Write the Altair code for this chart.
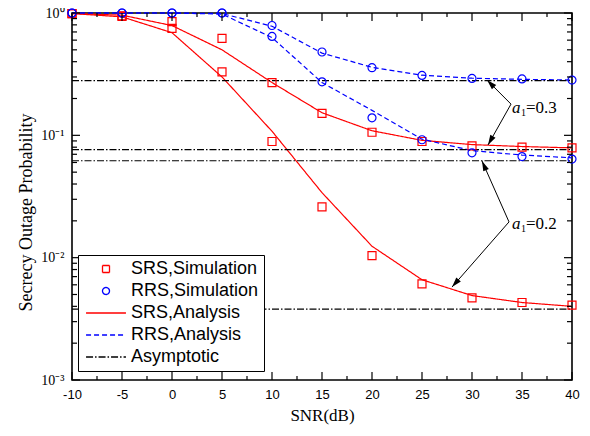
import math
import altair as alt
import pandas as pd

# ---------------- data ----------------
snr = [-10, -5, 0, 5, 10, 15, 20, 25, 30, 35, 40]

srs_sim_a03 = [0.99, 0.95, 0.85, 0.62, 0.27, 0.151, 0.106, 0.089, 0.082, 0.080, 0.079]
srs_ana_a03 = [0.99, 0.96, 0.79, 0.50, 0.27, 0.153, 0.109, 0.091, 0.084, 0.081, 0.079]
srs_sim_a02 = [0.99, 0.94, 0.75, 0.33, 0.089, 0.026, 0.0104, 0.0061, 0.0047, 0.0043, 0.0041]
srs_ana_a02 = [0.99, 0.93, 0.69, 0.30, 0.108, 0.034, 0.0124, 0.0066, 0.0049, 0.0043, 0.0040]

rrs_sim_a03 = [1.0, 1.0, 1.0, 1.0, 0.79, 0.48, 0.357, 0.309, 0.292, 0.289, 0.283]
rrs_ana_a03 = [1.0, 1.0, 1.0, 0.99, 0.78, 0.47, 0.36, 0.31, 0.293, 0.287, 0.283]
rrs_sim_a02 = [1.0, 1.0, 1.0, 1.0, 0.644, 0.274, 0.139, 0.092, 0.072, 0.067, 0.064]
rrs_ana_a02 = [1.0, 1.0, 1.0, 0.98, 0.63, 0.27, 0.16, 0.093, 0.075, 0.069, 0.0655]

asym_levels = [0.28, 0.0765, 0.062, 0.0038]
asym_snr = [-10, 40]

series_names = ["SRS,Simulation", "RRS,Simulation", "SRS,Analysis", "RRS,Analysis", "Asymptotic"]

x_major = [-10, -5, 0, 5, 10, 15, 20, 25, 30, 35, 40]
x_minor = [-7.5, -2.5, 2.5, 7.5, 12.5, 17.5, 22.5, 27.5, 32.5, 37.5]
y_major = [0.001, 0.01, 0.1, 1]
y_minor = [m * 10.0 ** e for e in (-3, -2, -1) for m in range(2, 10)]

ann_values = ["=0.3", "=0.2"]
ann_x = [34.0, 34.0]
ann_y = [0.152, 0.0172]

arrow_start_x = [33.9, 33.9, 33.7, 33.7]
arrow_start_y = [0.180, 0.180, 0.0196, 0.0196]
arrow_tip_x = [31.5, 31.6, 31.0, 28.0]
arrow_tip_y = [0.283, 0.0834, 0.0617, 0.00575]

# ---------------- tables ----------------
W, H = 500, 367

sim_rows, line_rows = [], []
for name, a1, vals in [("SRS,Simulation", "0.3", srs_sim_a03), ("SRS,Simulation", "0.2", srs_sim_a02),
                       ("RRS,Simulation", "0.3", rrs_sim_a03), ("RRS,Simulation", "0.2", rrs_sim_a02)]:
    for x, v in zip(snr, vals):
        sim_rows.append({"snr": x, "p": v, "series": name, "curve": name + a1})
for name, a1, vals in [("SRS,Analysis", "0.3", srs_ana_a03), ("SRS,Analysis", "0.2", srs_ana_a02),
                       ("RRS,Analysis", "0.3", rrs_ana_a03), ("RRS,Analysis", "0.2", rrs_ana_a02)]:
    for x, v in zip(snr, vals):
        line_rows.append({"snr": x, "p": v, "series": name, "curve": name + a1})
for i, lvl in enumerate(asym_levels):
    for x in asym_snr:
        line_rows.append({"snr": x, "p": lvl, "series": "Asymptotic", "curve": "asym%d" % i})

sim_df = pd.DataFrame(sim_rows)
line_df = pd.DataFrame(line_rows)


def px(x):
    return (x + 10) / 50 * W


def py(y):
    return -math.log10(y) / 3 * H


arrow_df = pd.DataFrame({
    "x": arrow_start_x, "y": arrow_start_y, "x2": arrow_tip_x, "y2": arrow_tip_y,
    "angle": [(math.degrees(math.atan2(px(tx) - px(sx), -(py(ty) - py(sy)))) + 360) % 360
              for sx, sy, tx, ty in zip(arrow_start_x, arrow_start_y, arrow_tip_x, arrow_tip_y)],
})
ann_df = pd.DataFrame({"x": ann_x, "y": ann_y, "v": ann_values})

# ---------------- scales / encodings ----------------
LINE = "M-5.7,0L5.7,0"
ARROW = "M0,0L-0.6,2L0.6,2Z"

x_scale = alt.Scale(domain=[-10, 40], nice=False)
y_scale = alt.Scale(type="log", domain=[0.001, 1], nice=False)

x_axis = alt.Axis(values=x_major, labelExpr="'' + datum.value", labelFlush=False, labelOverlap=False,
                  ticks=False, tickSize=0, domain=False, grid=False,
                  labelFont="Liberation Sans", labelFontSize=13, labelColor="black", labelPadding=8,
                  title="SNR(dB)", titleFont="Liberation Serif", titleFontSize=17,
                  titleFontWeight="normal", titleColor="black", titleY=35, titleBaseline="middle")
y_axis = alt.Axis(values=y_major,
                  labelExpr="datum.value >= 0.5 ? '10⁰' : datum.value >= 0.05 ? '10⁻¹' : datum.value >= 0.005 ? '10⁻²' : '10⁻³'",
                  labelFlush=False, labelOverlap=False,
                  ticks=False, tickSize=0, domain=False, grid=False,
                  labelFont="Liberation Serif", labelFontSize=14, labelColor="black", labelPadding=8,
                  title="Secrecy Outage Probability", titleFont="Liberation Serif", titleFontSize=18,
                  titleFontWeight="normal", titleColor="black", titleX=-46, titleY=199,
                  titleBaseline="middle")

X = alt.X("snr:Q", scale=x_scale, axis=x_axis)
Y = alt.Y("p:Q", scale=y_scale, axis=y_axis)

color_scale = alt.Scale(domain=series_names, range=["#ff0000", "#0000ff", "#ff0000", "#0000ff", "#000000"])
shape_scale = alt.Scale(domain=series_names, range=["square", "circle", LINE, LINE, LINE])
dash_scale = alt.Scale(domain=series_names, range=[[1, 0], [1, 0], [1, 0], [5, 3], [7, 2, 1.5, 2]])

leg = alt.Legend(title=None)

lines = alt.Chart(line_df).mark_line(strokeWidth=1.2).encode(
    x=X, y=Y,
    color=alt.Color("series:N", scale=color_scale, legend=leg),
    strokeDash=alt.StrokeDash("series:N", scale=dash_scale, legend=leg),
    detail="curve:N",
)

points = alt.Chart(sim_df).mark_point(filled=False, size=64, strokeWidth=1.2, opacity=1).encode(
    x=X, y=Y,
    color=alt.Color("series:N", scale=color_scale, legend=leg),
    shape=alt.Shape("series:N", scale=shape_scale, legend=leg),
)

# inward tick marks
def tick_df(vals):
    return pd.DataFrame({"v": vals})

TX = alt.X("v:Q", scale=x_scale, axis=x_axis)
TY = alt.Y("v:Q", scale=y_scale, axis=y_axis)
tick_style = dict(color="black", strokeWidth=1.2)

ticks = []
for vals, L in [(x_major, 8), (x_minor, 4)]:
    d = tick_df(vals)
    ticks.append(alt.Chart(d).mark_rule(**tick_style).encode(x=TX, y=alt.value(H - L), y2=alt.value(H)))
    ticks.append(alt.Chart(d).mark_rule(**tick_style).encode(x=TX, y=alt.value(0), y2=alt.value(L)))
for vals, L in [(y_major, 8), (y_minor, 5)]:
    d = tick_df(vals)
    ticks.append(alt.Chart(d).mark_rule(**tick_style).encode(y=TY, x=alt.value(0), x2=alt.value(L)))
    ticks.append(alt.Chart(d).mark_rule(**tick_style).encode(y=TY, x=alt.value(W - L), x2=alt.value(W)))

AX = alt.X("x:Q", scale=x_scale, axis=x_axis)
AY = alt.Y("y:Q", scale=y_scale, axis=y_axis)

arrow_lines = alt.Chart(arrow_df).mark_rule(color="black", strokeWidth=1).encode(
    x=AX, y=AY, x2="x2:Q", y2="y2:Q")
arrow_heads = alt.Chart(arrow_df).mark_point(shape=ARROW, filled=True, color="black", size=100, opacity=1).encode(
    x=alt.X("x2:Q", scale=x_scale, axis=x_axis), y=alt.Y("y2:Q", scale=y_scale, axis=y_axis),
    angle=alt.Angle("angle:Q", scale=None))

txt_a = alt.Chart(ann_df).mark_text(text="a", font="Liberation Serif", fontSize=17, fontStyle="italic",
                                    align="left", baseline="alphabetic", color="black").encode(x=AX, y=AY)
txt_1 = alt.Chart(ann_df).mark_text(text="1", font="Liberation Serif", fontSize=10, dx=9, dy=3,
                                    align="left", baseline="alphabetic", color="black").encode(x=AX, y=AY)
txt_v = alt.Chart(ann_df).mark_text(font="Liberation Serif", fontSize=17, dx=14,
                                    align="left", baseline="alphabetic", color="black").encode(
    x=AX, y=AY, text="v:N")

chart = alt.layer(
    lines, points, *ticks, arrow_lines, arrow_heads, txt_a, txt_1, txt_v
).properties(
    width=W, height=H,
    autosize=alt.AutoSizeParams(type="none"),
    padding={"left": 64, "top": 5, "right": 10, "bottom": 48},
).configure_view(
    stroke="black", strokeWidth=1.6
).configure_legend(
    orient="none", legendX=6, legendY=242, padding=5, rowPadding=4,
    symbolOffset=14, labelOffset=16, labelFont="Liberation Sans", labelFontSize=18,
    labelColor="black", strokeColor="black", fillColor="white", symbolSize=49,
    symbolStrokeWidth=1.3, labelLimit=300,
)

chart.save("out.html", embed_options={"renderer": "svg", "actions": False})
